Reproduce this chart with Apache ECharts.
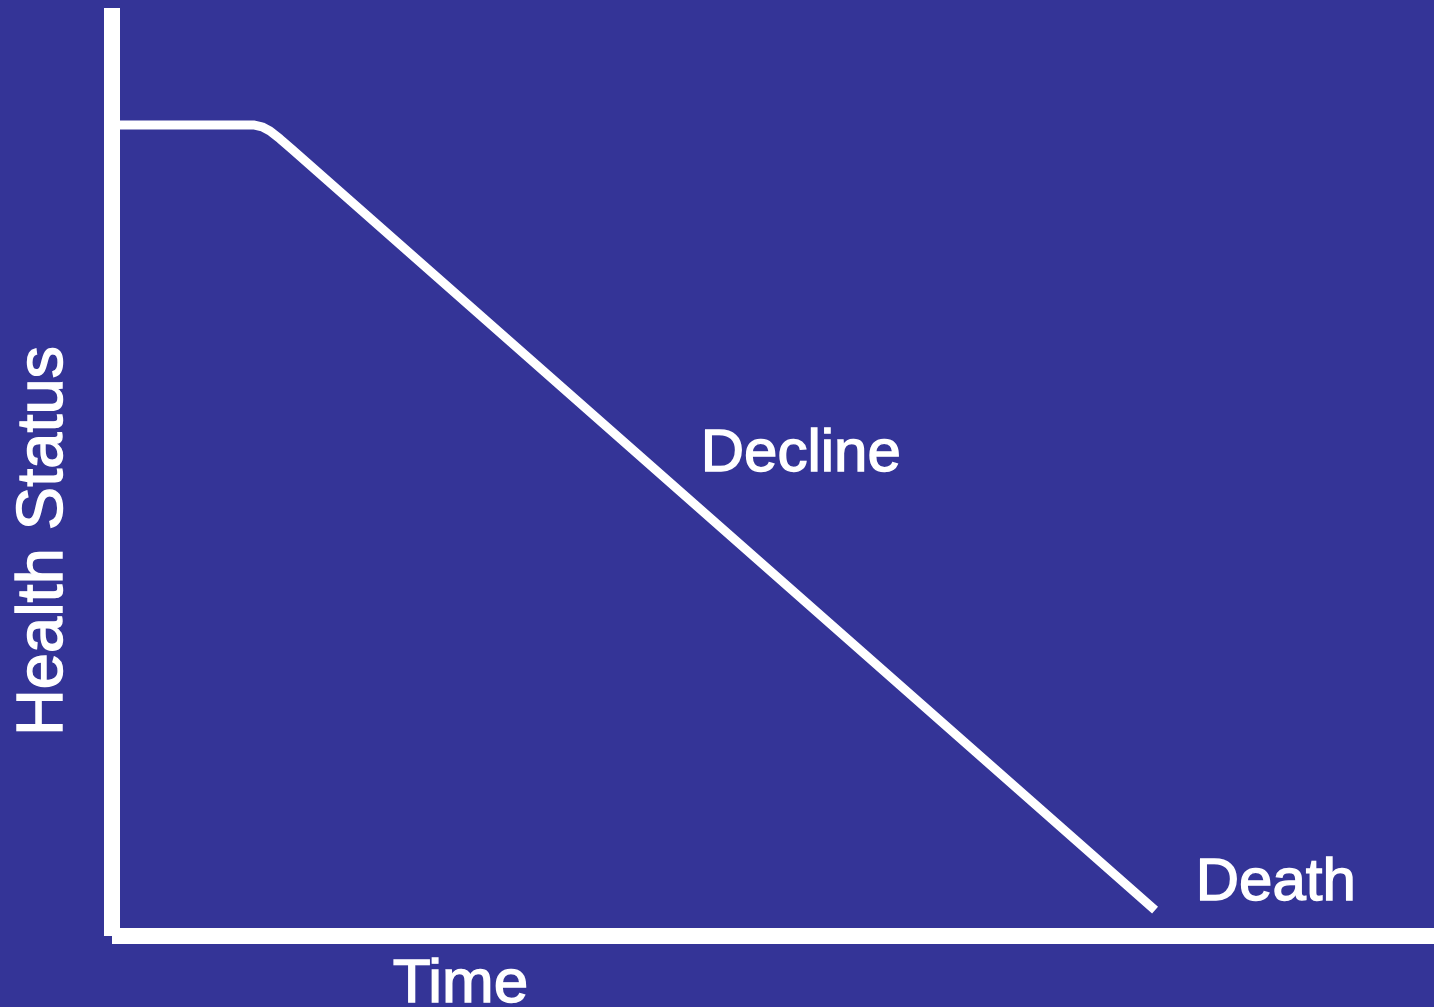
<!DOCTYPE html>
<html>
<head>
<meta charset="utf-8">
<script src="https://cdn.jsdelivr.net/npm/echarts@6/dist/echarts.min.js"></script>
<style>
html,body{margin:0;padding:0;background:#343497;}
#chart{width:1434px;height:1007px;}
</style>
</head>
<body>
<div id="chart"></div>
<script>
// Time (0-100, arbitrary units) and health status (0-100)
var timeValues = [0.6, 10.7, 11.35, 11.95, 12.7, 13.6, 78.9];
var healthValues = [87.4, 87.4, 87.2, 86.75, 85.9, 84.8, 2.8];
var xAxisTitle = 'Time';
var yAxisTitle = 'Health Status';
var annotations = ['Decline', 'Death'];

var seriesData = timeValues.map(function (t, i) { return [t, healthValues[i]]; });

var chart = echarts.init(document.getElementById('chart'));
var white = '#ffffff';
var font = 'Liberation Sans, Arial, sans-serif';
function txt(extra) {
  return Object.assign({ fill: white, stroke: white, lineWidth: 1.4 }, extra);
}
chart.setOption({
  backgroundColor: '#343497',
  animation: false,
  grid: { left: 112, right: 0, top: 8, bottom: 71 },
  xAxis: {
    type: 'value', min: 0, max: 100,
    axisLine: { show: true, onZero: false, lineStyle: { color: white, width: 16, cap: 'butt' } },
    axisTick: { show: false }, axisLabel: { show: false }, splitLine: { show: false }
  },
  yAxis: {
    type: 'value', min: 0, max: 100,
    axisLine: { show: true, onZero: false, lineStyle: { color: white, width: 16, cap: 'butt' } },
    axisTick: { show: false }, axisLabel: { show: false }, splitLine: { show: false }
  },
  series: [{
    type: 'line',
    data: seriesData,
    showSymbol: false,
    symbol: 'none',
    smooth: false,
    lineStyle: { color: white, width: 9, cap: 'butt', join: 'round' }
  }],
  graphic: [
    { type: 'text', left: 700, top: 424, style: txt({ text: annotations[0], font: '60px ' + font }) },
    { type: 'text', left: 1195, top: 853, style: txt({ text: annotations[1], font: '60px ' + font }) },
    { type: 'text', left: 392, top: 953, style: txt({ text: xAxisTitle, font: '62px ' + font }) },
    { type: 'text', x: 44, y: 541, rotation: Math.PI / 2,
      style: txt({ text: yAxisTitle, font: '65px ' + font, align: 'center', verticalAlign: 'middle' }) }
  ]
});
</script>
</body>
</html>
